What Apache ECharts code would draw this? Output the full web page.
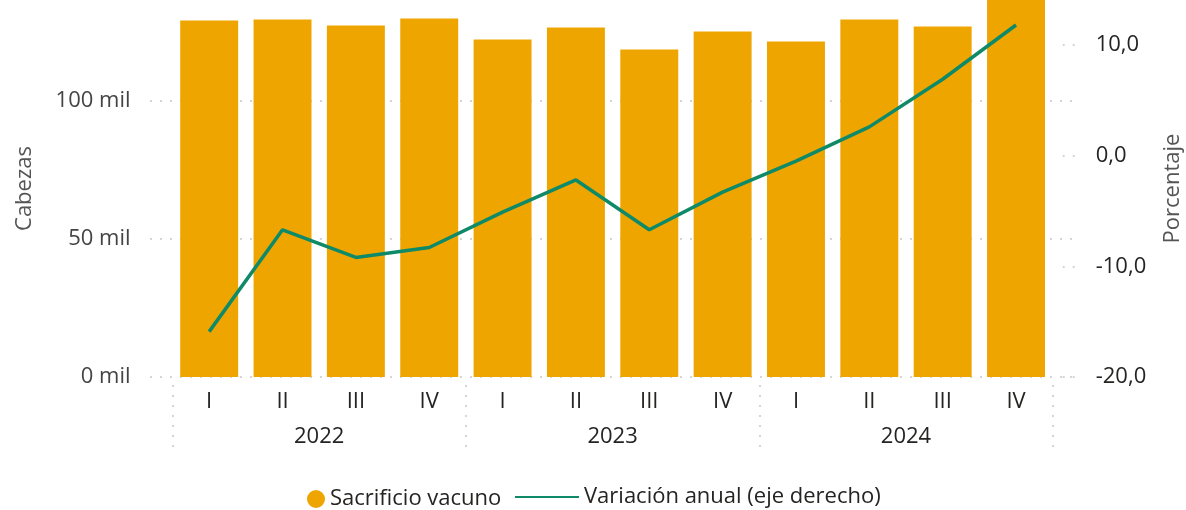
<!DOCTYPE html>
<html>
<head>
<meta charset="utf-8">
<script src="https://cdn.jsdelivr.net/npm/echarts@6/dist/echarts.min.js"></script>
<style>html,body{margin:0;padding:0;background:#fff;}#c{width:1186px;height:510px;}</style>
</head>
<body>
<div id="c"></div>
<script>
const quarters = ['I','II','III','IV','I','II','III','IV','I','II','III','IV'];
const years = ['2022','2023','2024'];
const sacrificio = [129200,129500,127400,129900,122300,126600,118700,125200,121600,129500,127000,140200];
const variacion = [-15.9,-6.7,-9.2,-8.3,-5.1,-2.2,-6.7,-3.3,-0.5,2.6,6.9,11.8];
const leftTicks = {min:0, max:136600, interval:50000};
const rightTicks = {min:-20, max:14.06, interval:10};

const FONT = 'Open Sans';
const dotted = {color:'#c8c8c8', width:1.5, type:[2,8]};
const chart = echarts.init(document.getElementById('c'), null, {renderer:'canvas'});
chart.setOption({
  animation:false,
  textStyle:{fontFamily:FONT},
  grid:[
    {left:172.5, right:133.3, top:0, bottom:133, outerBoundsMode:'none', containLabel:false},
    {left:150, right:114, top:0, bottom:133, outerBoundsMode:'none', containLabel:false},
    {left:172.5, right:133.3, top:385, bottom:55, outerBoundsMode:'none', containLabel:false}
  ],
  legend:[
    {data:['Sacrificio vacuno'], left:302, top:483, icon:'circle', itemWidth:18, itemHeight:18,
     textStyle:{fontFamily:FONT, fontSize:22, color:'#252423'}},
    {data:['Variación anual (eje derecho)'], left:509, top:481, itemWidth:64, itemHeight:22,
     itemStyle:{opacity:0},
     textStyle:{fontFamily:FONT, fontSize:22, color:'#252423'}}
  ],
  xAxis:[
    {type:'category', gridIndex:0, data:quarters, boundaryGap:true,
     axisLine:{show:false}, axisTick:{show:false},
     axisLabel:{interval:0, margin:14, fontSize:22, color:'#252423', fontFamily:FONT}},
    {type:'value', gridIndex:1, show:false, min:0, max:1},
    {type:'category', gridIndex:2, data:years, position:'top', boundaryGap:true,
     axisLine:{show:false}, axisTick:{show:false},
     splitLine:{show:true, interval:0, showMinLine:true, showMaxLine:true, lineStyle:dotted},
     axisLabel:{interval:0, inside:true, margin:41, fontSize:22, color:'#252423', fontFamily:FONT}}
  ],
  yAxis:[
    {type:'value', gridIndex:0, position:'left', min:leftTicks.min, max:leftTicks.max, interval:leftTicks.interval,
     name:'Cabezas', nameLocation:'middle', nameGap:137, nameRotate:90,
     nameTextStyle:{fontSize:22, color:'#555', fontFamily:FONT},
     axisLine:{show:false}, axisTick:{show:false}, splitLine:{show:false},
     axisLabel:{margin:42, fontSize:22, color:'#444', fontFamily:FONT, showMaxLabel:false,
       formatter:v => (v/1000) + ' mil'}},
    {type:'value', gridIndex:0, position:'right', offset:10, min:rightTicks.min, max:rightTicks.max, interval:rightTicks.interval,
     name:'Porcentaje', nameLocation:'middle', nameGap:99, nameRotate:90,
     nameTextStyle:{fontSize:22, color:'#555', fontFamily:FONT},
     axisLine:{show:false}, axisTick:{show:true, length:12, inside:false, lineStyle:dotted}, splitLine:{show:false},
     axisLabel:{margin:33, fontSize:22, color:'#252423', fontFamily:FONT, showMaxLabel:false, align:'left',
       formatter:v => v.toFixed(1).replace('.', ',')}},
    {type:'value', gridIndex:1, min:leftTicks.min, max:leftTicks.max, interval:leftTicks.interval,
     axisLine:{show:false}, axisTick:{show:false}, axisLabel:{show:false},
     splitLine:{show:true, showMaxLine:false, lineStyle:dotted}},
    {type:'value', gridIndex:2, show:false, min:0, max:1}
  ],
  series:[
    {name:'Sacrificio vacuno', type:'bar', xAxisIndex:0, yAxisIndex:0, data:sacrificio,
     barCategoryGap:'21%', itemStyle:{color:'#EFA500'}, z:2},
    {name:'Variación anual (eje derecho)', type:'line', xAxisIndex:0, yAxisIndex:1, data:variacion,
     symbol:'none', smooth:false, itemStyle:{color:'#0E8A68'}, lineStyle:{color:'#0E8A68', width:3.5}, z:3}
  ]
});
</script>
</body>
</html>
